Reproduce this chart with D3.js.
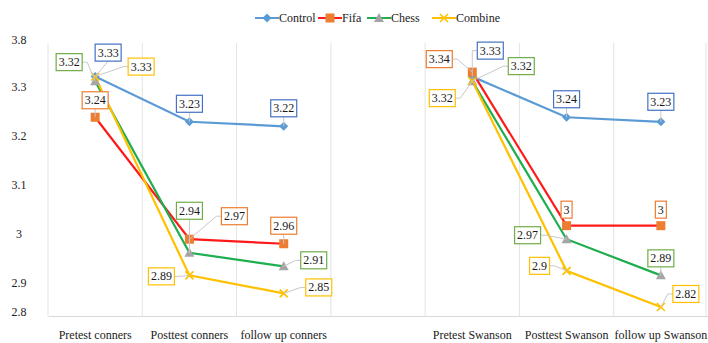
<!DOCTYPE html>
<html>
<head>
<meta charset="utf-8">
<script src="https://cdn.jsdelivr.net/npm/d3@7"></script>
<style>
  html, body { margin: 0; padding: 0; background: #fff; }
  svg { display: block; }
  text { font-family: "Liberation Serif", "Times New Roman", serif; }
</style>
</head>
<body>
<svg id="chart" width="708" height="343"></svg>
<script>
// ---------------- data ----------------
const categories = ["Pretest conners", "Posttest conners", "follow up conners", "",
                    "Pretest Swanson", "Posttest Swanson", "follow up Swanson"];
const seriesNames = ["Control", "Fifa", "Chess", "Combine"];
const control = [3.33, 3.23, 3.22, null, 3.33, 3.24, 3.23];
const fifa    = [3.24, 2.97, 2.96, null, 3.34, 3.00, 3.00];
const chess   = [3.32, 2.94, 2.91, null, 3.32, 2.97, 2.89];
const combine = [3.33, 2.89, 2.85, null, 3.32, 2.90, 2.82];
const yTickValues = [2.8, 2.9, 3.0, 3.1, 3.2, 3.3, 3.4];
const yTickLabels = ["2.8", "2.9", "3", "3.1", "3.2", "3.3", "3.8"];

// ---------------- styling / layout ----------------
const styles = {
  Control: { line: "#5b9bd5", marker: "#5b9bd5", box: "#4472c4", symbol: "diamond" },
  Fifa:    { line: "#ff1a1a", marker: "#ed7d31", box: "#ed7d31", symbol: "square" },
  Chess:   { line: "#1fae4f", marker: "#a5a5a5", box: "#70ad47", symbol: "triangle" },
  Combine: { line: "#ffc000", marker: "#ffc000", box: "#ffc000", symbol: "x" }
};
// data label placement (offset of label centre from its point)
const labelOffsets = {
  Control: [[13,-24],[0,-18],[0,-18],null,[18,-26],[0,-18],[0,-20]],
  Fifa:    [[0,-17],[45,-23],[0,-18],null,[-33,-13],[0,-16],[0,-16]],
  Chess:   [[-26,-19],[0,-42],[30,-6],null,[49,-15],[-39,-4],[0,-17]],
  Combine: [[46,-10],[-28,1],[35,-6],null,[-30,17],[-27,-5],[25,-13]]
};
const legendX = [255, 318, 367, 432];

const seriesValues = { Control: control, Fifa: fifa, Chess: chess, Combine: combine };

const svg = d3.select("#chart");
const plotLeft = 48, plotRight = 708, plotTop = 43, plotBottom = 316;

const x = d3.scaleBand().domain(categories.map((c, i) => i)).range([plotLeft, plotRight]);
const y = d3.scaleLinear().domain([2.8, 3.4]).range([plotBottom, 45]);
// tick-label positions as drawn in the original figure
const yLabelPos = d3.scaleLinear().domain([2.8, 2.9, 3.3, 3.4]).range([312, 283, 87, 40]);

// vertical gridlines at category boundaries
const bounds = categories.map((c, i) => x(i)).concat([plotRight - 2]);
svg.append("g").selectAll("line").data(bounds).join("line")
  .attr("x1", d => d).attr("x2", d => d)
  .attr("y1", plotTop).attr("y2", plotBottom)
  .attr("stroke", "#e3e3e3").attr("stroke-width", 1);

// x axis
const xAxis = d3.axisBottom(x).tickSize(0).tickFormat(i => categories[i]);
const gx = svg.append("g").attr("transform", `translate(0,${plotBottom})`).call(xAxis);
gx.select(".domain").attr("stroke", "#d9d9d9");
gx.selectAll("text").attr("font-size", 12).attr("fill", "#222")
  .attr("font-family", "Liberation Serif, serif").attr("dy", 0).attr("y", 23);

// y axis labels
const yAxis = d3.axisLeft(yLabelPos).tickValues(yTickValues).tickSize(0)
  .tickFormat((d, i) => yTickLabels[i]);
const gy = svg.append("g").attr("transform", "translate(19,0)").call(yAxis);
gy.select(".domain").remove();
gy.selectAll("text").attr("font-size", 12).attr("fill", "#222")
  .attr("font-family", "Liberation Serif, serif").attr("text-anchor", "middle").attr("x", 0);

// lines
const cx = i => x(i) + x.bandwidth() / 2;
const lineGen = d3.line().defined(d => d.v != null).x(d => cx(d.i)).y(d => y(d.v));
seriesNames.forEach(name => {
  const pts = seriesValues[name].map((v, i) => ({ v, i }));
  svg.append("path").datum(pts).attr("d", lineGen)
    .attr("fill", "none").attr("stroke", styles[name].line).attr("stroke-width", 2.2);
});

// markers
function drawMarker(g, sym, color, px, py) {
  if (sym === "diamond") {
    g.append("path").attr("d", `M${px},${py-4.5}L${px+4.5},${py}L${px},${py+4.5}L${px-4.5},${py}Z`).attr("fill", color);
  } else if (sym === "square") {
    g.append("rect").attr("x", px-4.5).attr("y", py-4.5).attr("width", 9).attr("height", 9).attr("fill", color);
  } else if (sym === "triangle") {
    g.append("path").attr("d", `M${px},${py-5}L${px+5},${py+4}L${px-5},${py+4}Z`).attr("fill", color);
  } else if (sym === "x") {
    g.append("path").attr("d", `M${px-4},${py-4}L${px+4},${py+4}M${px+4},${py-4}L${px-4},${py+4}`)
      .attr("stroke", color).attr("stroke-width", 1.6);
  }
}
const gm = svg.append("g");
seriesNames.forEach(name => {
  seriesValues[name].forEach((v, i) => {
    if (v == null) return;
    drawMarker(gm, styles[name].symbol, styles[name].marker, cx(i), y(v));
  });
});

// data labels with leader lines
const gl = svg.append("g");
const gb = svg.append("g");
const fmt = v => String(+v.toFixed(2));
seriesNames.forEach(name => {
  seriesValues[name].forEach((v, i) => {
    if (v == null) return;
    const off = labelOffsets[name][i];
    const px = cx(i), py = y(v);
    const lx = px + off[0], ly = py + off[1];
    const t = gb.append("text").text(fmt(v)).attr("font-size", 12).attr("fill", "#1a1a1a")
      .attr("x", lx).attr("y", ly).attr("text-anchor", "middle").attr("dominant-baseline", "central");
    const w = t.node().getComputedTextLength() + 5, h = 17;
    gb.insert("rect", () => t.node())
      .attr("x", lx - w/2).attr("y", ly - h/2).attr("width", w).attr("height", h)
      .attr("fill", "#fff").attr("stroke", styles[name].box).attr("stroke-width", 1.2);
    // leader line if label is detached from point
    const gapX = Math.abs(px - lx) - w/2, gapY = Math.abs(py - ly) - h/2;
    if (gapX > 4 || gapY > 8) {
      let sx, sy, ex, ey;
      if (gapX > 0) {
        const side = px > lx ? 1 : -1;
        sx = lx + side * w/2; sy = ly;
        ex = sx + side * 5; ey = ly;
      } else {
        sx = lx; sy = ly + (py > ly ? h/2 : -h/2);
        ex = sx; ey = sy;
      }
      gl.append("path").attr("d", `M${sx},${sy}L${ex},${ey}L${px},${py}`)
        .attr("fill", "none").attr("stroke", "#c8c8c8").attr("stroke-width", 1);
    }
  });
});

// legend
const legend = svg.append("g");
seriesNames.forEach((name, k) => {
  const lx = legendX[k], ly = 18;
  legend.append("line").attr("x1", lx).attr("x2", lx + 24).attr("y1", ly).attr("y2", ly)
    .attr("stroke", styles[name].line).attr("stroke-width", 2);
  drawMarker(legend, styles[name].symbol, styles[name].marker, lx + 12, ly);
  legend.append("text").attr("x", lx + 24).attr("y", ly).attr("dominant-baseline", "central")
    .attr("font-size", 12).attr("fill", "#222").text(name);
});
</script>
</body>
</html>
